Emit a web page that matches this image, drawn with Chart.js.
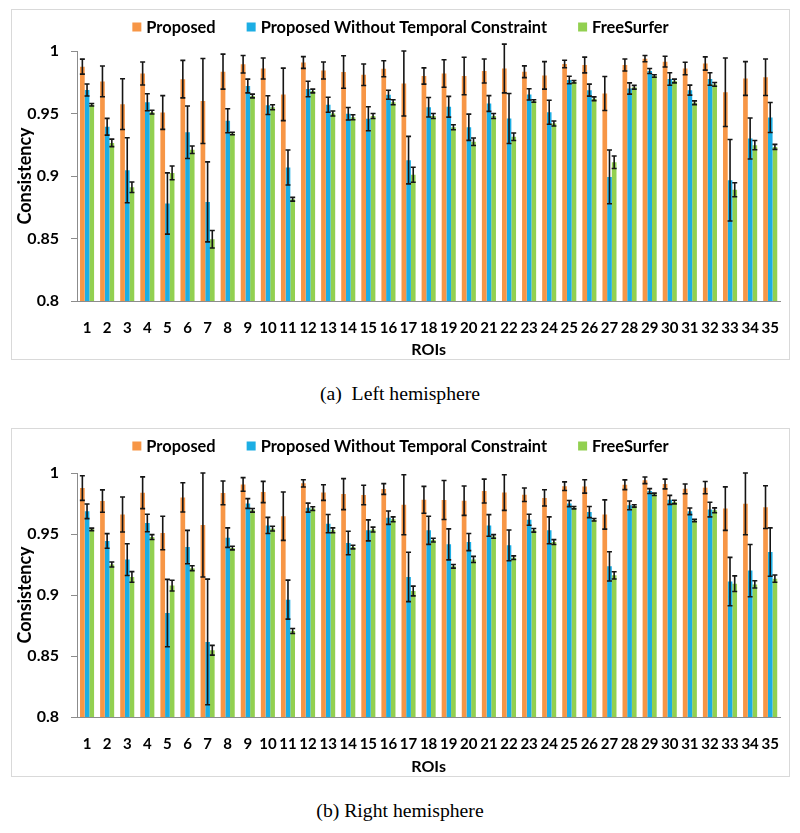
<!DOCTYPE html>
<html>
<head>
<meta charset="utf-8">
<script src="https://cdn.jsdelivr.net/npm/chart.js@4.4.1/dist/chart.umd.min.js"></script>
<style>
  html, body { margin: 0; padding: 0; background: #fff; }
  body { width: 800px; height: 833px; position: relative; overflow: hidden; }
  .box { position: absolute; left: 11px; width: 777px; border: 1px solid #d9d9d9; }
  .box canvas { display: block; }
  .cap { position: absolute; left: 0; width: 800px; text-align: center;
         font-family: "Liberation Serif", "Times New Roman", serif; font-size: 19.7px; color: #000; white-space: pre; }
</style>
</head>
<body>
<div class="box" style="top:9px;height:349px;"><canvas id="leftChart" width="777" height="349"></canvas></div>
<div class="cap" style="top:382px;">(a)  Left hemisphere</div>
<div class="box" style="top:428px;height:347px;"><canvas id="rightChart" width="777" height="347"></canvas></div>
<div class="cap" style="top:799px;">(b) Right hemisphere</div>
<script>
// ---------- data ----------
const roiLabels = ['1','2','3','4','5','6','7','8','9','10','11','12','13','14','15','16','17','18','19','20','21','22','23','24','25','26','27','28','29','30','31','32','33','34','35'];
const seriesNames = ['Proposed', 'Proposed Without Temporal Constraint', 'FreeSurfer'];
const seriesColors = ['#F79646', '#1CAEE4', '#92D050'];
const yTickValues = [0.8, 0.85, 0.9, 0.95, 1];

// Left hemisphere
const leftProposed = [0.9875,0.9757,0.9575,0.982,0.9508,0.9775,0.960,0.9835,0.9894,0.986,0.9653,0.9908,0.9844,0.9832,0.981,0.9858,0.974,0.980,0.982,0.980,0.984,0.986,0.9834,0.9805,0.9896,0.9888,0.966,0.9888,0.9939,0.9915,0.986,0.990,0.967,0.978,0.979];
const leftProposedErr = [0.006,0.0123,0.0203,0.0092,0.0135,0.015,0.034,0.014,0.007,0.0084,0.021,0.0047,0.0068,0.013,0.0086,0.0064,0.026,0.0065,0.011,0.015,0.0096,0.0195,0.0047,0.011,0.003,0.0063,0.0136,0.0048,0.0025,0.0043,0.005,0.0053,0.0274,0.0135,0.0146];
const leftNoTemporal = [0.9688,0.9394,0.9046,0.959,0.878,0.935,0.8793,0.9442,0.972,0.9567,0.9068,0.9696,0.957,0.9498,0.9458,0.965,0.9127,0.955,0.9554,0.939,0.958,0.946,0.9653,0.951,0.9768,0.9687,0.8993,0.970,0.984,0.9776,0.9687,0.9776,0.8966,0.930,0.9468];
const leftNoTemporalErr = [0.0048,0.0067,0.026,0.0068,0.0245,0.021,0.032,0.0096,0.0055,0.0075,0.014,0.0062,0.006,0.005,0.0096,0.0036,0.019,0.0078,0.0083,0.0105,0.0063,0.020,0.0045,0.0096,0.003,0.0048,0.0215,0.0045,0.002,0.005,0.004,0.005,0.0326,0.0164,0.012];
const leftFreeSurfer = [0.957,0.9265,0.891,0.9511,0.9025,0.921,0.8494,0.934,0.964,0.955,0.8814,0.968,0.950,0.947,0.948,0.959,0.901,0.948,0.939,0.9274,0.948,0.9314,0.960,0.942,0.9754,0.9618,0.911,0.971,0.980,0.976,0.9586,0.9733,0.889,0.9247,0.9233];
const leftFreeSurferErr = [0.001,0.003,0.0042,0.0015,0.0055,0.003,0.007,0.001,0.0015,0.002,0.0015,0.0015,0.002,0.002,0.002,0.002,0.006,0.002,0.002,0.003,0.002,0.003,0.001,0.002,0.001,0.0015,0.005,0.0015,0.001,0.0015,0.0015,0.0015,0.0056,0.0037,0.002];

// Right hemisphere
const rightProposed = [0.9877,0.977,0.966,0.9838,0.9508,0.980,0.9574,0.9837,0.9906,0.9844,0.9646,0.9915,0.984,0.9827,0.982,0.9869,0.974,0.978,0.9779,0.9773,0.9852,0.984,0.9822,0.9796,0.9892,0.989,0.966,0.9904,0.994,0.991,0.987,0.988,0.9708,0.9747,0.972];
const rightProposedErr = [0.0101,0.0092,0.0143,0.013,0.0137,0.012,0.0426,0.0097,0.0056,0.0087,0.0198,0.003,0.0064,0.0127,0.008,0.0044,0.0246,0.011,0.016,0.012,0.0098,0.0146,0.0055,0.0067,0.0035,0.0055,0.012,0.004,0.0027,0.004,0.004,0.005,0.0178,0.0253,0.0175];
const rightNoTemporal = [0.9686,0.9443,0.929,0.959,0.8852,0.9393,0.8615,0.947,0.975,0.957,0.8962,0.9716,0.9585,0.9426,0.953,0.9634,0.9148,0.953,0.9415,0.9434,0.957,0.9407,0.9617,0.953,0.9749,0.968,0.9235,0.9735,0.9852,0.978,0.9686,0.970,0.911,0.920,0.9352];
const rightNoTemporalErr = [0.006,0.006,0.013,0.0072,0.0276,0.0137,0.0515,0.008,0.004,0.0066,0.016,0.0037,0.0075,0.0096,0.0086,0.0055,0.0202,0.0115,0.0127,0.007,0.0089,0.0126,0.0045,0.011,0.0025,0.0046,0.012,0.0036,0.002,0.0037,0.0027,0.006,0.0198,0.0214,0.0198];
const rightFreeSurfer = [0.9538,0.925,0.9148,0.9475,0.9077,0.922,0.8547,0.9385,0.9694,0.9544,0.8705,0.9708,0.953,0.9393,0.9536,0.962,0.9033,0.945,0.9235,0.9292,0.948,0.9306,0.953,0.9434,0.9716,0.9617,0.9161,0.973,0.9825,0.9762,0.961,0.9694,0.9093,0.9087,0.9134];
const rightFreeSurferErr = [0.001,0.002,0.0044,0.002,0.0044,0.002,0.004,0.0015,0.0015,0.002,0.002,0.0015,0.002,0.0015,0.002,0.002,0.004,0.0015,0.0015,0.0025,0.0015,0.0015,0.0015,0.002,0.001,0.001,0.003,0.001,0.001,0.0015,0.001,0.002,0.0064,0.003,0.003];

// ---------- plugins ----------
const errorBarPlugin = {
  id: 'errorBars',
  afterDatasetsDraw(chart) {
    const ctx = chart.ctx;
    const ys = chart.scales.y;
    ctx.save();
    ctx.strokeStyle = '#151515';
    ctx.lineWidth = 1.6;
    chart.data.datasets.forEach((ds, i) => {
      const meta = chart.getDatasetMeta(i);
      if (!ds.errors || meta.hidden) return;
      meta.data.forEach((bar, j) => {
        const v = ds.data[j], e = ds.errors[j];
        const yt = ys.getPixelForValue(v + e);
        const yb = ys.getPixelForValue(v - e);
        const x = bar.x, c = 2.5;
        ctx.beginPath();
        ctx.moveTo(x, yt); ctx.lineTo(x, yb);
        ctx.moveTo(x - c, yt); ctx.lineTo(x + c, yt);
        ctx.moveTo(x - c, yb); ctx.lineTo(x + c, yb);
        ctx.stroke();
      });
    });
    ctx.restore();
  }
};

const legendPlugin = {
  id: 'topLegend',
  afterDraw(chart, args, opts) {
    const ctx = chart.ctx;
    ctx.save();
    ctx.font = 'bold 16.4px Lato';
    ctx.textBaseline = 'middle';
    ctx.textAlign = 'left';
    const box = 9, gapText = 5, gapItem = 31;
    const items = chart.data.datasets.map(d => ({
      text: d.label, color: d.backgroundColor,
      w: box + gapText + ctx.measureText(d.label).width
    }));
    const total = items.reduce((s, it) => s + it.w, 0) + gapItem * (items.length - 1);
    let x = (chart.width - total) / 2 + (opts.dx || 0);
    const yc = opts.y;
    items.forEach(it => {
      ctx.fillStyle = it.color;
      ctx.fillRect(x, yc - box / 2, box, box);
      ctx.fillStyle = '#000';
      ctx.fillText(it.text, x + box + gapText, yc + 1);
      x += it.w + gapItem;
    });
    ctx.restore();
  }
};

// ---------- charts ----------
function makeChart(id, values, errors, geom) {
  const tickFont = { family: 'Lato', weight: 'bold', size: 15 };
  return new Chart(document.getElementById(id), {
    type: 'bar',
    data: {
      labels: roiLabels,
      datasets: seriesNames.map((name, i) => ({
        label: name,
        data: values[i],
        errors: errors[i],
        backgroundColor: seriesColors[i],
        borderWidth: 0,
        categoryPercentage: 0.7,
        barPercentage: 1.0
      }))
    },
    options: {
      responsive: false,
      animation: false,
      events: [],
      layout: { padding: { left: 0, right: geom.right, top: geom.top, bottom: 0 } },
      plugins: {
        legend: { display: false },
        tooltip: { enabled: false },
        topLegend: { y: geom.legendY, dx: 0 }
      },
      scales: {
        x: {
          grid: { display: false },
          border: { display: true, color: '#8c8c8c', width: 1 },
          ticks: { font: tickFont, color: '#000', padding: 10, maxRotation: 0, autoSkip: false },
          title: { display: true, text: 'ROIs', color: '#000',
                   font: { family: 'Lato', weight: 'bold', size: 16 }, padding: { top: 5, bottom: 0 } },
          afterFit(s) { s.height = geom.xh; }
        },
        y: {
          min: 0.8, max: 1,
          afterBuildTicks(s) { s.ticks = yTickValues.map(v => ({ value: v })); },
          grid: { drawOnChartArea: false, drawTicks: true, tickLength: 6, color: '#8c8c8c' },
          border: { display: true, color: '#8c8c8c', width: 1 },
          ticks: { font: { family: 'Lato', weight: 'bold', size: 16 }, color: '#000', padding: 12,
                   callback: v => String(+Number(v).toFixed(2)) },
          title: { display: true, text: 'Consistency', color: '#000',
                   font: { family: 'Lato', weight: 'bold', size: 18 }, padding: { top: 2, bottom: 0 } },
          afterFit(s) { s.width = 65; }
        }
      }
    },
    plugins: [errorBarPlugin, legendPlugin]
  });
}

makeChart('leftChart',
  [leftProposed, leftNoTemporal, leftFreeSurfer],
  [leftProposedErr, leftNoTemporalErr, leftFreeSurferErr],
  { top: 41, right: 5, xh: 58, legendY: 17 });

makeChart('rightChart',
  [rightProposed, rightNoTemporal, rightFreeSurfer],
  [rightProposedErr, rightNoTemporalErr, rightFreeSurferErr],
  { top: 44, right: 7, xh: 59, legendY: 17 });
</script>
</body>
</html>
